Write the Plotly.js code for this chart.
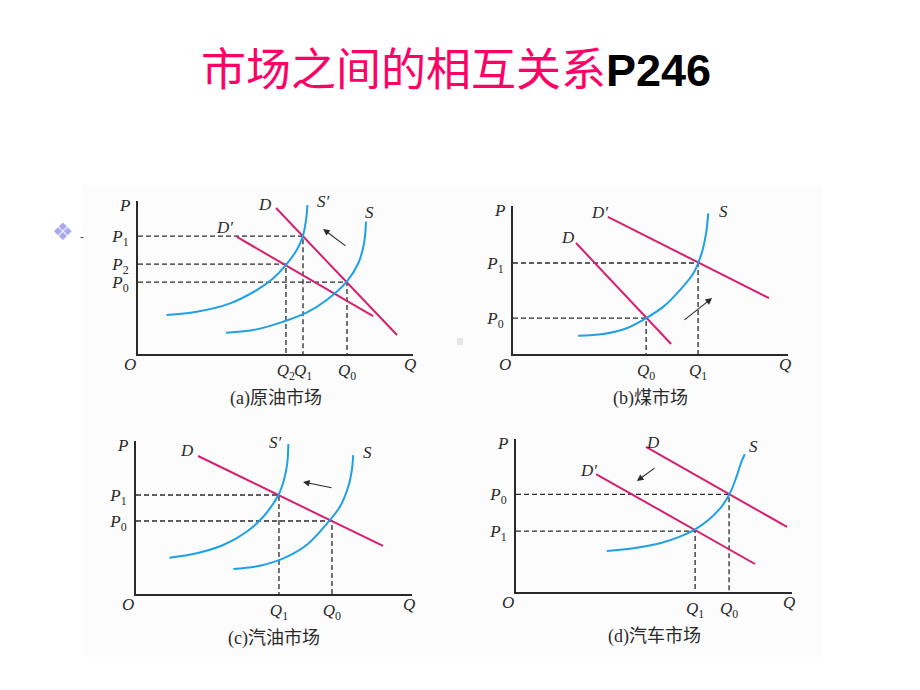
<!DOCTYPE html>
<html>
<head>
<meta charset="utf-8">
<script src="https://cdn.plot.ly/plotly-3.0.1.min.js"></script>
<style>html,body{margin:0;padding:0;background:#fff;}#chart{width:920px;height:690px;}</style>
</head>
<body>
<div id="chart"></div>
<script>
// ---------------- DATA ----------------
// Panel (a) 原油市场
const aQ = [53.8, 60.0, 76.0];            // Q2, Q1, Q0
const aP = [58.8, 77.0, 47.0];            // P2, P1, P0
const aQLabels = ['2', '1', '0'];
const aPLabels = ['2', '1', '0'];
const aDx = [50.2, 94.2], aDy = [95.4, 12.4];
const aD2x = [36.0, 85.5], aD2y = [76.5, 24.8];
const aS2x = [10.4, 21.3, 33.5, 43.2, 49.2, 53.8, 57.7, 59.9, 61.1, 61.6];
const aS2y = [25.5, 27.6, 33.1, 41.8, 49.5, 58.2, 68.0, 76.7, 87.6, 97.4];
const aSx = [32.0, 43.2, 52.8, 61.3, 68.6, 75.9, 80.1, 82.2, 82.9];
const aSy = [13.9, 16.1, 21.1, 27.0, 35.3, 47.3, 59.3, 72.4, 86.5];
const aArrow = [[76.0, 69.9], [67.3, 81.7]]; // tail, head

// Panel (b) 煤市场
const bQ = [48.4, 67.3];                  // Q0, Q1
const bP = [24.3, 61.5];                  // P0, P1
const bQLabels = ['0', '1'];
const bPLabels = ['0', '1'];
const bDx = [22.9, 57.5], bDy = [75.0, 6.8];
const bD2x = [34.5, 93.1], bD2y = [92.6, 37.8];
const bSx = [23.7, 32.8, 41.3, 48.3, 54.7, 60.7, 65.6, 68.6, 70.2, 71.0];
const bSy = [12.4, 13.5, 17.4, 24.1, 32.0, 43.2, 54.5, 68.0, 81.5, 95.0];
const bArrow = [[61.8, 22.3], [72.4, 37.8]];

// Panel (c) 汽油市场
const cQ = [51.8, 71.0];                  // Q1, Q0
const cP = [64.7, 47.7];                  // P1, P0
const cQLabels = ['1', '0'];
const cPLabels = ['1', '0'];
const cDx = [22.5, 89.5], cDy = [90.2, 31.4];
const cS2x = [12.1, 22.0, 31.6, 40.1, 46.1, 51.6, 53.6, 54.8, 55.2];
const cS2y = [23.7, 26.6, 32.0, 40.7, 50.5, 64.7, 74.5, 85.4, 98.0];
const cSx = [35.3, 44.9, 53.4, 61.8, 69.4, 73.9, 76.9, 78.2, 78.7];
const cSy = [16.3, 18.5, 23.3, 32.0, 46.5, 57.1, 70.1, 81.0, 90.8];
const cArrow = [[71.4, 69.3], [60.5, 73.2]];

// Panel (d) 汽车市场
const dQ = [64.9, 77.2];                  // Q1, Q0
const dP = [39.8, 63.8];                  // P1, P0
const dQLabels = ['1', '0'];
const dPLabels = ['1', '0'];
const dDx = [47.1, 98.2], dDy = [94.8, 42.5];
const dD2x = [29.0, 86.6], dD2y = [77.1, 18.3];
const dSx = [32.9, 42.5, 52.2, 59.4, 64.9, 69.7, 74.5, 77.5, 79.9, 81.7, 82.9];
const dSy = [26.8, 28.6, 31.9, 36.2, 41.0, 47.1, 55.8, 64.5, 75.4, 85.2, 90.0];
const dArrow = [[50.7, 81.7], [43.8, 72.5]];

const captions = ['(a)原油市场', '(b)煤市场', '(c)汽油市场', '(d)汽车市场'];
const titleCN = '市场之间的相互关系';
const titleEN = 'P246';

// ---------------- STYLE ----------------
const W = 920, H = 690;
const PINK = '#d4206e', BLUE = '#1ea0e6', INK = '#2a2a2a';
const SERIF = 'Liberation Serif, DejaVu Serif, serif';
const CJK = 'Noto Sans CJK SC, sans-serif';
const fx = p => p / W, fy = p => 1 - p / H;

// panel boxes in page pixels: [left, right, top, bottom]
const boxes = [[138, 413, 201, 354], [513, 788, 206, 354], [136, 412, 441, 594], [516, 792, 439, 592]];

const traces = [];
const annotations = [];
const layout = {
  width: W, height: H,
  margin: {l: 0, r: 0, t: 0, b: 0},
  paper_bgcolor: '#ffffff', plot_bgcolor: 'rgba(0,0,0,0)',
  showlegend: false, hovermode: false,
  title: {
    text: '<span style="font-family:Noto Sans CJK SC;color:#ff0066">' + titleCN + '</span>' +
          '<span style="font-family:Liberation Sans;font-weight:bold;color:#000">' + titleEN + '</span>',
    x: 456 / W, xanchor: 'center', y: fy(70), yanchor: 'middle',
    font: {size: 45, family: CJK, color: '#ff0066'}
  },
  shapes: [
    {type: 'rect', xref: 'paper', yref: 'paper', x0: fx(83), x1: fx(823), y0: fy(657), y1: fy(185),
     fillcolor: '#fcfcfc', line: {width: 0}, layer: 'below'},
    {type: 'rect', xref: 'paper', yref: 'paper', x0: fx(457), x1: fx(463), y0: fy(345), y1: fy(338),
     fillcolor: '#e6e6e6', line: {width: 0}, layer: 'below'}
  ],
  annotations: annotations
};

function tickText(letter, subs) {
  return subs.map(s => '<i>' + letter + '</i><sub>' + s + '</sub>');
}

function setupAxes(i, qVals, qLab, pVals, pLab) {
  const n = i + 1;
  const [l, r, t, b] = boxes[i];
  const xa = 'xaxis' + (n === 1 ? '' : n), ya = 'yaxis' + (n === 1 ? '' : n);
  const xref = 'x' + (n === 1 ? '' : n), yref = 'y' + (n === 1 ? '' : n);
  layout[xa] = {
    domain: [fx(l), fx(r)], range: [0, 100], anchor: yref,
    showline: true, linecolor: INK, linewidth: 2, showgrid: false, zeroline: false,
    tickmode: 'array', tickvals: qVals, ticktext: tickText('Q', qLab), ticks: '', tickangle: 0,
    tickfont: {family: SERIF, size: 17, color: INK}, ticklabelstandoff: 0, fixedrange: true
  };
  layout[ya] = {
    domain: [fy(b), fy(t)], range: [0, 100], anchor: xref,
    showline: true, linecolor: INK, linewidth: 2, showgrid: false, zeroline: false,
    tickmode: 'array', tickvals: pVals, ticktext: tickText('P', pLab), ticks: '', tickangle: 0,
    tickfont: {family: SERIF, size: 17, color: INK}, ticklabelstandoff: 4, fixedrange: true
  };
  // axis letters
  const lab = {font: {family: SERIF, size: 17, color: INK}, showarrow: false,
               xref: xref + ' domain', yref: yref + ' domain'};
  annotations.push(Object.assign({text: '<i>P</i>', x: 0, y: 1, xanchor: 'center', yanchor: 'middle',
                                  xshift: -14, yshift: -4}, lab));
  annotations.push(Object.assign({text: '<i>O</i>', x: 0, y: 0, xanchor: 'center', yanchor: 'middle',
                                  xshift: -8, yshift: -10}, lab));
  annotations.push(Object.assign({text: '<i>Q</i>', x: 1, y: 0, xanchor: 'center', yanchor: 'middle',
                                  xshift: -3, yshift: -10}, lab));
  annotations.push({text: captions[i], x: 0.5, y: 0, xref: xref + ' domain', yref: yref + ' domain',
                    xanchor: 'center', yanchor: 'middle', yshift: -44, showarrow: false,
                    font: {family: 'Liberation Serif, Noto Sans CJK SC', size: 18, color: INK}});
  return [xref, yref];
}

function line(xs, ys, color, xr, yr, spline) {
  traces.push({type: 'scatter', mode: 'lines', x: xs, y: ys, xaxis: xr, yaxis: yr,
               line: {color: color, width: 2, shape: spline ? 'spline' : 'linear', smoothing: 1},
               cliponaxis: false});
}
function guides(qs, ps, xr, yr) {
  qs.forEach((q, k) => {
    traces.push({type: 'scatter', mode: 'lines', x: [0, q, q], y: [ps[k], ps[k], 0], xaxis: xr, yaxis: yr,
                 line: {color: INK, width: 1.3, dash: '5px,3px'}});
  });
}
function label(text, x, y, xr, yr) {
  annotations.push({text: text, x: x, y: y, xref: xr, yref: yr, showarrow: false,
                    font: {family: SERIF, size: 17, color: INK}});
}
function arrow(a, xr, yr) {
  annotations.push({text: '', x: a[1][0], y: a[1][1], ax: a[0][0], ay: a[0][1],
                    xref: xr, yref: yr, axref: xr, ayref: yr, showarrow: true,
                    arrowhead: 2, arrowsize: 1.2, arrowwidth: 1.1, arrowcolor: INK});
}

// Panel a
let [xr, yr] = setupAxes(0, aQ, aQLabels, aP, aPLabels);
guides(aQ, aP, xr, yr);
line(aDx, aDy, PINK, xr, yr);
line(aD2x, aD2y, PINK, xr, yr);
line(aS2x, aS2y, BLUE, xr, yr, true);
line(aSx, aSy, BLUE, xr, yr, true);
label('<i>D</i>', 46.2, 98.0, xr, yr);
label("<i>S′</i>", 67.5, 99.5, xr, yr);
label('<i>S</i>', 84.0, 92.2, xr, yr);
label("<i>D′</i>", 31.6, 83.0, xr, yr);
arrow(aArrow, xr, yr);

// Panel b
[xr, yr] = setupAxes(1, bQ, bQLabels, bP, bPLabels);
guides(bQ, bP, xr, yr);
line(bDx, bDy, PINK, xr, yr);
line(bD2x, bD2y, PINK, xr, yr);
line(bSx, bSy, BLUE, xr, yr, true);
label("<i>D′</i>", 31.3, 95.3, xr, yr);
label('<i>D</i>', 20.0, 79.0, xr, yr);
label('<i>S</i>', 76.4, 96.0, xr, yr);
arrow(bArrow, xr, yr);

// Panel c
[xr, yr] = setupAxes(2, cQ, cQLabels, cP, cPLabels);
guides(cQ, cP, xr, yr);
line(cDx, cDy, PINK, xr, yr);
line(cS2x, cS2y, BLUE, xr, yr, true);
line(cSx, cSy, BLUE, xr, yr, true);
label('<i>D</i>', 18.5, 94.1, xr, yr);
label("<i>S′</i>", 50.4, 98.7, xr, yr);
label('<i>S</i>', 83.7, 92.2, xr, yr);
arrow(cArrow, xr, yr);

// Panel d
[xr, yr] = setupAxes(3, dQ, dQLabels, dP, dPLabels);
guides(dQ, dP, xr, yr);
line(dDx, dDy, PINK, xr, yr);
line(dD2x, dD2y, PINK, xr, yr);
line(dSx, dSy, BLUE, xr, yr, true);
label('<i>D</i>', 49.6, 98.0, xr, yr);
label("<i>D′</i>", 26.1, 79.7, xr, yr);
label('<i>S</i>', 85.9, 94.8, xr, yr);
arrow(dArrow, xr, yr);

// slide bullet
annotations.push({text: '❖', x: fx(50), y: fy(232), xref: 'paper', yref: 'paper', showarrow: false,
                  font: {family: 'DejaVu Sans', size: 24, color: '#a9a9ef'}});
annotations.push({text: '-', x: fx(78), y: fy(228), xref: 'paper', yref: 'paper', showarrow: false,
                  font: {family: 'Liberation Sans', size: 12, color: '#444'}});

Plotly.newPlot('chart', traces, layout, {staticPlot: true, displayModeBar: false});
</script>
</body>
</html>
